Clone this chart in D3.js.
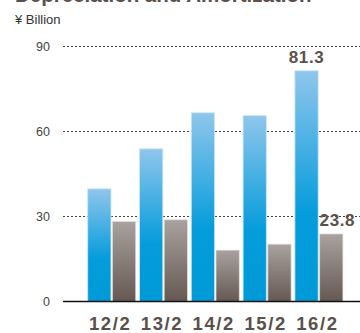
<!DOCTYPE html>
<html>
<head>
<meta charset="utf-8">
<script src="https://cdn.jsdelivr.net/npm/d3@7"></script>
<style>
  html, body { margin: 0; padding: 0; background: #fff; }
  svg { display: block; }
  text { font-family: "Liberation Sans", Arial, Helvetica, sans-serif; }
</style>
</head>
<body>
<svg id="chart" width="360" height="333"></svg>
<script>
// Fiscal years (year/month of fiscal year end)
const categories = ["12/2", "13/2", "14/2", "15/2", "16/2"];
// Depreciation and amortization, ¥ billion
const depreciation = [39.7, 53.8, 66.5, 65.5, 81.3];
// Second series (grey bars), ¥ billion
const amortization = [28.2, 28.8, 18.1, 20.2, 23.8];
const yTicks = [0, 30, 60, 90];
const seriesKeys = ["dep", "amo"];

const svg = d3.select("#chart");

const defs = svg.append("defs");
const blueGrad = defs.append("linearGradient")
  .attr("id", "blueGrad").attr("x1", 0).attr("y1", 0).attr("x2", 0).attr("y2", 1);
blueGrad.append("stop").attr("offset", "0%").attr("stop-color", "#90c6ec");
blueGrad.append("stop").attr("offset", "62%").attr("stop-color", "#049cdb");
blueGrad.append("stop").attr("offset", "100%").attr("stop-color", "#009ad9");

const greyGrad = defs.append("linearGradient")
  .attr("id", "greyGrad").attr("x1", 0).attr("y1", 0).attr("x2", 0).attr("y2", 1);
greyGrad.append("stop").attr("offset", "0%").attr("stop-color", "#a9a29e");
greyGrad.append("stop").attr("offset", "100%").attr("stop-color", "#665853");

const y = d3.scaleLinear().domain([0, 90]).range([301.5, 46]);
const x0 = d3.scaleBand().domain(categories).range([85.8, 344.8])
  .paddingInner(0.073).paddingOuter(0.0365);
const x1 = d3.scaleBand().domain(seriesKeys).range([0, x0.bandwidth()])
  .paddingInner(0.057);

const gridX0 = 63, gridX1 = 360;

// Title (partly above the visible area)
svg.append("text")
  .attr("x", 15).attr("y", 1.5)
  .attr("font-size", 20.5).attr("font-weight", "bold")
  .attr("fill", "#5a504c")
  .text("Depreciation and Amortization");

// Unit label
svg.append("text")
  .attr("x", 15).attr("y", 24)
  .attr("font-size", 13).attr("fill", "#333")
  .text("¥ Billion");

// Dotted gridlines
svg.append("g").selectAll("line")
  .data(yTicks.filter(t => t > 0))
  .join("line")
  .attr("x1", gridX0).attr("x2", gridX1)
  .attr("y1", d => Math.round(y(d)) + 0.5).attr("y2", d => Math.round(y(d)) + 0.5)
  .attr("stroke", "#444").attr("stroke-width", 1)
  .attr("stroke-dasharray", "2,2");

// Y axis labels (no axis line)
const yAxis = d3.axisLeft(y).tickValues(yTicks).tickSize(0).tickPadding(0);
const yg = svg.append("g").attr("transform", "translate(50,0)").call(yAxis);
yg.select(".domain").remove();
yg.selectAll("text")
  .attr("font-size", 12.5).attr("fill", "#444")
  .attr("font-family", "'Liberation Sans', Arial, sans-serif");

// Bars
const groups = svg.append("g").selectAll("g")
  .data(categories.map((c, i) => ({ cat: c, dep: depreciation[i], amo: amortization[i] })))
  .join("g")
  .attr("transform", d => `translate(${x0(d.cat)},0)`);

groups.selectAll("rect")
  .data(d => seriesKeys.map(k => ({ key: k, value: d[k] })))
  .join("rect")
  .attr("x", d => x1(d.key))
  .attr("width", x1.bandwidth())
  .attr("y", d => y(d.value))
  .attr("height", d => y(0) - y(d.value))
  .attr("fill", d => d.key === "dep" ? "url(#blueGrad)" : "url(#greyGrad)")
  .attr("stroke", d => d.key === "dep" ? "rgba(205,232,250,0.8)" : "rgba(230,226,222,0.7)")
  .attr("stroke-width", 1);

// Baseline
svg.append("line")
  .attr("x1", gridX0).attr("x2", gridX1)
  .attr("y1", y(0)).attr("y2", y(0))
  .attr("stroke", "#111").attr("stroke-width", 1.5);

// Value labels for the latest year
const last = categories.length - 1;
const lastCat = categories[last];
svg.append("text")
  .attr("x", x0(lastCat) + x1("dep") + x1.bandwidth() / 2)
  .attr("y", y(depreciation[last]) - 8)
  .attr("text-anchor", "middle")
  .attr("font-size", 17).attr("font-weight", "bold")
  .attr("letter-spacing", 0.6)
  .attr("fill", "#5a504c")
  .text(depreciation[last].toFixed(1));

svg.append("text")
  .attr("x", x0(lastCat) + x1("amo"))
  .attr("y", y(amortization[last]) - 7.5)
  .attr("text-anchor", "start")
  .attr("font-size", 17).attr("font-weight", "bold")
  .attr("letter-spacing", 0.6)
  .attr("fill", "#5a504c")
  .text(amortization[last].toFixed(1));

// Category labels
svg.append("g").selectAll("text")
  .data(categories)
  .join("text")
  .attr("x", d => x0(d) + x0.bandwidth() / 2 - 1.5)
  .attr("y", 330)
  .attr("text-anchor", "middle")
  .attr("font-size", 18.5).attr("font-weight", "bold")
  .attr("letter-spacing", 1.6)
  .attr("fill", "#5a504c")
  .text(d => d);
</script>
</body>
</html>
